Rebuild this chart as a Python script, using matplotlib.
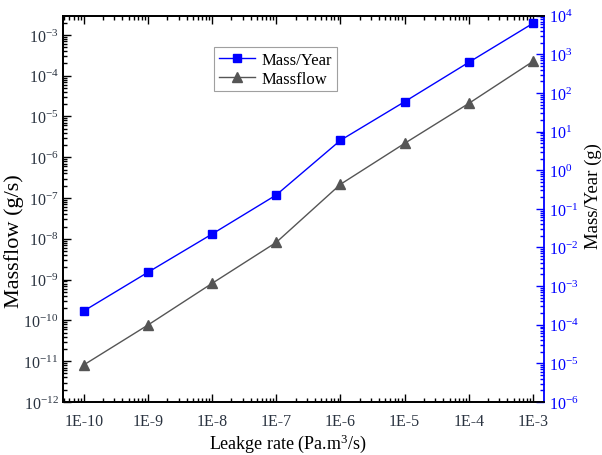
import matplotlib
matplotlib.use("Agg")
import matplotlib.pyplot as plt
from matplotlib.ticker import LogLocator, FixedLocator, FixedFormatter, NullFormatter

plt.rcParams['font.family'] = ['Liberation Serif', 'DejaVu Serif']
plt.rcParams['mathtext.fontset'] = 'stix'

leak_rate = [1e-10, 1e-9, 1e-8, 1e-7, 1e-6, 1e-5, 1e-4, 1e-3]
x_labels = ['1E-10', '1E-9', '1E-8', '1E-7', '1E-6', '1E-5', '1E-4', '1E-3']
massflow = [8.1e-12, 7.7e-11, 8.1e-10, 8.2e-9, 2.17e-7, 2.19e-6, 2.09e-5, 2.24e-4]
mass_year = [2.27e-4, 2.28e-3, 2.23e-2, 0.229, 5.95, 59.4, 622, 6350]

fig = plt.figure(figsize=(6.02, 4.56), dpi=100)
ax = fig.add_axes([0.1052, 0.1162, 0.7990, 0.8472])
ax2 = ax.twinx()

tick_col = '#2a3340'

l1, = ax.plot(leak_rate, massflow, color='#555555', marker='^', markersize=7.5,
              linewidth=1.0, label='Massflow')
l2, = ax2.plot(leak_rate, mass_year, color='#0000ff', marker='s', markersize=5.8,
               linewidth=1.0, label='Mass/Year')

ax.set_xscale('log')
ax.set_yscale('log')
ax2.set_yscale('log')
ax.set_xlim(4.81e-11, 1.5e-3)
ax.set_ylim(1e-12, 2.95e-3)
ax2.set_ylim(1e-6, 1e4)

ax.xaxis.set_major_locator(FixedLocator(leak_rate))
ax.xaxis.set_major_formatter(FixedFormatter(x_labels))
ax.xaxis.set_minor_locator(LogLocator(base=10, subs=range(2, 10), numticks=30))
ax.xaxis.set_minor_formatter(NullFormatter())
ax.yaxis.set_major_locator(LogLocator(base=10, numticks=30))
ax.yaxis.set_minor_locator(LogLocator(base=10, subs=range(2, 10), numticks=30))
ax.yaxis.set_minor_formatter(NullFormatter())
ax2.yaxis.set_major_locator(LogLocator(base=10, numticks=30))
ax2.yaxis.set_minor_locator(LogLocator(base=10, subs=range(2, 10), numticks=30))
ax2.yaxis.set_minor_formatter(NullFormatter())

ax.tick_params(axis='both', which='both', direction='in', top=True, right=False,
               labelsize=11.5, colors='black', labelcolor=tick_col, width=1.0)
ax.tick_params(axis='both', which='major', length=6)
ax.tick_params(axis='both', which='minor', length=3)
ax.tick_params(axis='x', pad=8)
ax2.tick_params(axis='y', which='both', direction='in', colors='#0000ff',
                labelsize=11.5, width=1.0)
ax2.tick_params(axis='y', which='major', length=6)
ax2.tick_params(axis='y', which='minor', length=3)

for s in ['left', 'bottom', 'top']:
    ax.spines[s].set_linewidth(1.3)
    ax2.spines[s].set_linewidth(1.3)
ax2.spines['right'].set_color('#0000ff')
ax2.spines['right'].set_linewidth(1.3)
ax.spines['right'].set_visible(False)

ax.set_xlabel('Leakge rate (Pa.m$^\\mathdefault{3}$/s)', fontsize=13)
ax.xaxis.set_label_coords(0.4666, -0.077)
ax.set_ylabel('Massflow (g/s)', fontsize=16)
ax.yaxis.set_label_coords(-0.081, 0.42)
ax2.set_ylabel('Mass/Year (g)', fontsize=13.5)
ax2.yaxis.set_label_coords(1.084, 0.536)

leg = ax.legend([l2, l1], ['Mass/Year', 'Massflow'], loc='upper left',
                bbox_to_anchor=(0.314, 0.918), fontsize=12, frameon=True,
                fancybox=False, edgecolor='#888888', borderpad=0.25,
                handlelength=2.2, labelspacing=0.2, borderaxespad=0, handletextpad=0.4)
leg.get_frame().set_linewidth(0.8)

fig.savefig('out.png', dpi=100)
